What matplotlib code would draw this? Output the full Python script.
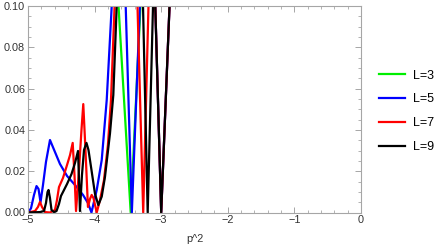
import matplotlib
matplotlib.use("Agg")
import numpy as np
import matplotlib.pyplot as plt
from matplotlib.ticker import MultipleLocator, FormatStrFormatter

# values (p^2, y); points above 0.1 are clipped by the frame
p_L3 = [-5.0, -3.70, -3.641, -3.458, -3.311, -3.20, 0.0]
y_L3 = [0.5, 0.2, 0.1, 0.0, 0.1, 0.3, 0.5]

p_L5 = [-5.0, -4.955, -4.91, -4.872, -4.842, -4.812, -4.775, -4.73, -4.67, -4.595,
        -4.52, -4.414, -4.294, -4.174, -4.10, -4.047, -3.968, -3.893, -3.818, -3.743,
        -3.65, -3.533, -3.441, -3.32, -3.20, -3.089, -3.0, -2.875, -2.70, 0.0]
y_L5 = [0.0, 0.002, 0.0085, 0.0128, 0.0114, 0.005, 0.0133, 0.0245, 0.0351, 0.0293,
        0.0235, 0.0177, 0.0133, 0.0085, 0.0046, 0.0, 0.0109, 0.0254, 0.0545, 0.1,
        0.2, 0.1, 0.0, 0.1, 0.3, 0.1, 0.0, 0.1, 0.3, 0.5]

p_L7 = [-5.0, -4.895, -4.85, -4.82, -4.79, -4.745, -4.67, -4.595, -4.565, -4.535,
        -4.475, -4.414, -4.369, -4.329, -4.302, -4.279, -4.234, -4.197, -4.17, -4.137,
        -4.10, -4.07, -4.044, -4.017, -3.968, -3.919, -3.859, -3.80, -3.754, -3.70,
        -3.60, -3.356, -3.27, -3.191, -3.10, -3.089, -3.0, -2.875, -2.70, 0.0]
y_L7 = [0.0, 0.0007, 0.0027, 0.0051, 0.0027, 0.0002, 0.0, 0.0012, 0.006, 0.0123,
        0.0167, 0.023, 0.0278, 0.0337, 0.0182, 0.0007, 0.0206, 0.040, 0.0525, 0.0303,
        0.0027, 0.0065, 0.0085, 0.007, 0.0, 0.006, 0.0157, 0.0327, 0.0545, 0.1,
        0.25, 0.1, 0.0, 0.1, 0.3, 0.1, 0.0, 0.1, 0.3, 0.5]

p_L9 = [-5.0, -4.82, -4.76, -4.73, -4.707, -4.692, -4.67, -4.647, -4.61, -4.572,
        -4.535, -4.505, -4.475, -4.414, -4.347, -4.294, -4.249, -4.234, -4.22, -4.19,
        -4.159, -4.122, -4.092, -4.047, -3.994, -3.944, -3.893, -3.844, -3.769, -3.719,
        -3.668, -3.50, -3.273, -3.203, -3.123, -3.10, -3.089, -3.0, -2.875, -2.70, 0.0]
y_L9 = [0.0, 0.0002, 0.0007, 0.0046, 0.0099, 0.0109, 0.007, 0.0012, 0.0002, 0.0007,
        0.0041, 0.008, 0.0099, 0.0138, 0.0186, 0.024, 0.0298, 0.0157, 0.0007, 0.018,
        0.0303, 0.0337, 0.0303, 0.0206, 0.009, 0.0036, 0.0077, 0.0173, 0.0383, 0.0569,
        0.1, 0.3, 0.1, 0.0, 0.1, 0.2, 0.1, 0.0, 0.1, 0.3, 0.5]

labels = ["L=3", "L=5", "L=7", "L=9"]
colors = ["#00ee00", "#0000ff", "#ff0000", "#000000"]

plt.rcParams['font.family'] = ['Liberation Sans', 'DejaVu Sans']

fig = plt.figure(figsize=(4.47, 2.46), dpi=100)
ax = fig.add_axes([28 / 447, 33.5 / 246, 333 / 447, 206.5 / 246])

series = [(p_L3, y_L3), (p_L5, y_L5), (p_L7, y_L7), (p_L9, y_L9)]
for (px, py), lab, col in zip(series, labels, colors):
    ax.plot(px, py, color=col, lw=1.6, label=lab, solid_joinstyle='round')

ax.set_xlim(-5, 0)
ax.set_ylim(0, 0.1)
ax.xaxis.set_major_locator(MultipleLocator(1))
ax.xaxis.set_minor_locator(MultipleLocator(0.2))
ax.yaxis.set_major_locator(MultipleLocator(0.02))
ax.yaxis.set_minor_locator(MultipleLocator(0.005))
ax.yaxis.set_major_formatter(FormatStrFormatter('%.2f'))

framecol = "#a6a6a6"
for s in ax.spines.values():
    s.set_color(framecol)
    s.set_linewidth(0.8)
ax.tick_params(which='both', direction='in', top=True, right=True,
               color=framecol, labelsize=7.8, labelcolor='#333333', pad=2)
ax.tick_params(which='major', length=4, width=0.7)
ax.tick_params(which='minor', length=2, width=0.6)

ax.set_xlabel("p^2", fontsize=7.8, color='#333333', labelpad=6)

ax.legend(loc='center left', bbox_to_anchor=(1.02, 0.49), frameon=False,
          fontsize=9, handlelength=2.1, handletextpad=0.6, labelspacing=0.95)

fig.savefig("out.png", dpi=100)
